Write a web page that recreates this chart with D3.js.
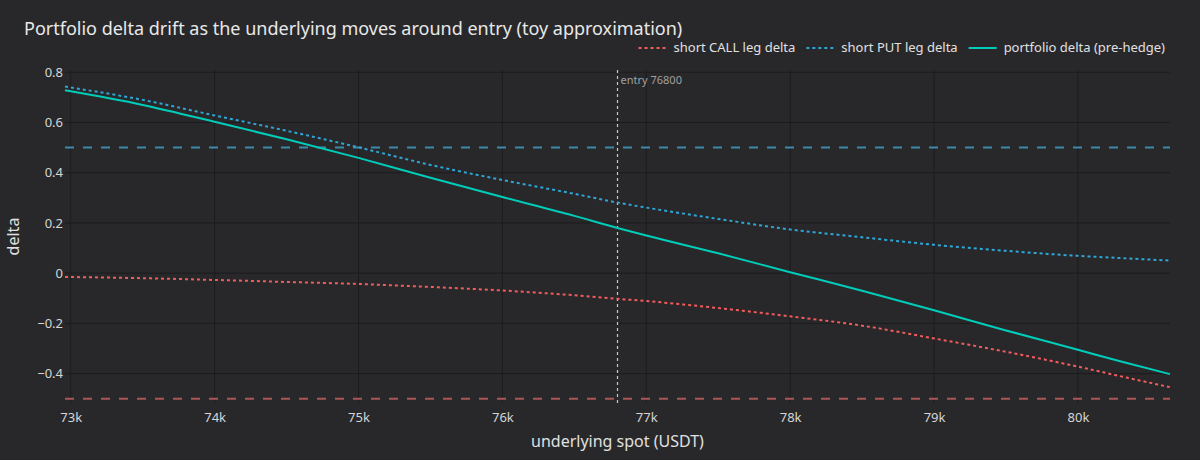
<!DOCTYPE html>
<html>
<head>
<meta charset="utf-8">
<script src="https://cdn.jsdelivr.net/npm/d3@7/dist/d3.min.js"></script>
<style>
  html, body { margin: 0; padding: 0; background: #28282b; }
  svg { display: block; font-family: "Noto Sans", "Open Sans", sans-serif; }
</style>
</head>
<body>
<div id="chart"></div>
<script>
// Values
const spot = [72960, 73500, 74000, 74500, 75000, 75500, 76000, 76500, 76800, 77000,
              77500, 78000, 78500, 79000, 79500, 80000, 80300, 80640];
const callDelta = [-0.015, -0.020, -0.027, -0.035, -0.043, -0.055, -0.069, -0.088, -0.102, -0.111,
                   -0.139, -0.172, -0.209, -0.260, -0.313, -0.372, -0.411, -0.454];
const putDelta = [0.743, 0.690, 0.628, 0.567, 0.501, 0.431, 0.371, 0.316, 0.281, 0.261,
                  0.216, 0.174, 0.143, 0.113, 0.089, 0.069, 0.060, 0.050];
const portfolioDelta = [0.728, 0.670, 0.603, 0.533, 0.459, 0.380, 0.303, 0.228, 0.180, 0.150,
                        0.079, 0.004, -0.070, -0.148, -0.228, -0.305, -0.352, -0.402];
const xTicks = [73000, 74000, 75000, 76000, 77000, 78000, 79000, 80000];
const yTicks = [-0.4, -0.2, 0, 0.2, 0.4, 0.6, 0.8];
const entrySpot = 76800;
const bands = [0.5, -0.5];

const width = 1200, height = 460;
const margin = {top: 70, right: 30, bottom: 57, left: 65};

let svg = d3.select("#chart")
    .append("svg")
    .attr("width", width)
    .attr("height", height);

svg.append("rect")
    .attr("width", width)
    .attr("height", height)
    .attr("fill", "#28282b");

let x = d3.scaleLinear()
    .domain([72960, 80640])
    .range([margin.left, width - margin.right]);

let y = d3.scaleLinear()
    .domain([-0.517, 0.809])
    .range([height - margin.bottom, margin.top]);

// Grid lines
let grid = svg.append("g");
grid.selectAll(".vgrid")
    .data(xTicks)
    .enter()
    .append("line")
    .attr("x1", d => x(d)).attr("x2", d => x(d))
    .attr("y1", margin.top).attr("y2", height - margin.bottom)
    .style("stroke", "#1c1c1e")
    .style("stroke-width", 1);
grid.selectAll(".hgrid")
    .data(yTicks)
    .enter()
    .append("line")
    .attr("x1", margin.left).attr("x2", width - margin.right)
    .attr("y1", d => y(d)).attr("y2", d => y(d))
    .style("stroke", "#1c1c1e")
    .style("stroke-width", 1);

// Axes (labels only)
let xAxis = svg.append("g")
    .attr("transform", `translate(0, ${height - margin.bottom})`)
    .call(d3.axisBottom(x).tickValues(xTicks).tickSize(0).tickPadding(10)
        .tickFormat(d => (d / 1000) + "k"));
let yAxis = svg.append("g")
    .attr("transform", `translate(${margin.left - 2}, 0)`)
    .call(d3.axisLeft(y).tickValues(yTicks).tickSize(0).tickPadding(0)
        .tickFormat(d => d === 0 ? "0" : d3.format(".1f")(d)));
svg.selectAll(".domain").remove();
svg.selectAll(".tick text")
    .style("font-family", "Noto Sans, sans-serif")
    .style("font-size", "13px")
    .style("fill", "#d6d6d6");

// +/- 0.5 reference lines
svg.selectAll(".band")
    .data(bands)
    .enter()
    .append("line")
    .attr("x1", margin.left).attr("x2", width - margin.right)
    .attr("y1", d => y(d)).attr("y2", d => y(d))
    .style("stroke", d => d > 0 ? "#3a8aa8" : "#a85656")
    .style("stroke-width", 2)
    .style("stroke-dasharray", "9,9");

// Entry marker
svg.append("line")
    .attr("x1", x(entrySpot)).attr("x2", x(entrySpot))
    .attr("y1", margin.top).attr("y2", height - margin.bottom)
    .style("stroke", "#c8c8c8")
    .style("stroke-width", 1.2)
    .style("stroke-dasharray", "3,3");
svg.append("text")
    .attr("x", x(entrySpot) + 3)
    .attr("y", margin.top + 14)
    .style("font-size", "11px")
    .style("fill", "#a0a0a0")
    .text("entry " + entrySpot);

// Series
const series = [
    {name: "short CALL leg delta", values: callDelta, color: "#f25c5c", dash: "3,3"},
    {name: "short PUT leg delta", values: putDelta, color: "#2ea6d6", dash: "3,3"},
    {name: "portfolio delta (pre-hedge)", values: portfolioDelta, color: "#00cdb9", dash: null}
];

let line = d3.line()
    .x((d, i) => x(spot[i]))
    .y(d => y(d))
    .curve(d3.curveMonotoneX);

svg.selectAll(".series")
    .data(series)
    .enter()
    .append("path")
    .attr("d", d => line(d.values))
    .style("fill", "none")
    .style("stroke", d => d.color)
    .style("stroke-width", 2)
    .style("stroke-dasharray", d => d.dash);

// Title
svg.append("text")
    .attr("x", 24)
    .attr("y", 35)
    .style("font-size", "18px")
    .style("fill", "#e8e8e8")
    .text("Portfolio delta drift as the underlying moves around entry (toy approximation)");

// Axis titles
svg.append("text")
    .attr("x", (margin.left + width - margin.right) / 2)
    .attr("y", 447)
    .attr("text-anchor", "middle")
    .style("font-size", "16px")
    .style("fill", "#e0e0e0")
    .text("underlying spot (USDT)");
svg.append("text")
    .attr("transform", `translate(19, ${(margin.top + height - margin.bottom) / 2}) rotate(-90)`)
    .attr("text-anchor", "middle")
    .style("font-size", "16px")
    .style("fill", "#e0e0e0")
    .text("delta");

// Legend, laid out right to left so it ends near the plot's right edge
let legend = svg.append("g");
let lx = 1165;
for (let i = series.length - 1; i >= 0; i--) {
    const s = series[i];
    let t = legend.append("text")
        .attr("y", 52)
        .style("font-size", "13px")
        .style("fill", "#e0e0e0")
        .text(s.name);
    const w = t.node().getComputedTextLength();
    t.attr("x", lx - w);
    legend.append("line")
        .attr("x1", lx - w - 35).attr("x2", lx - w - 7)
        .attr("y1", 48).attr("y2", 48)
        .style("stroke", s.color)
        .style("stroke-width", 2)
        .style("stroke-dasharray", s.dash);
    lx = lx - w - 35 - 11;
}
</script>
</body>
</html>
